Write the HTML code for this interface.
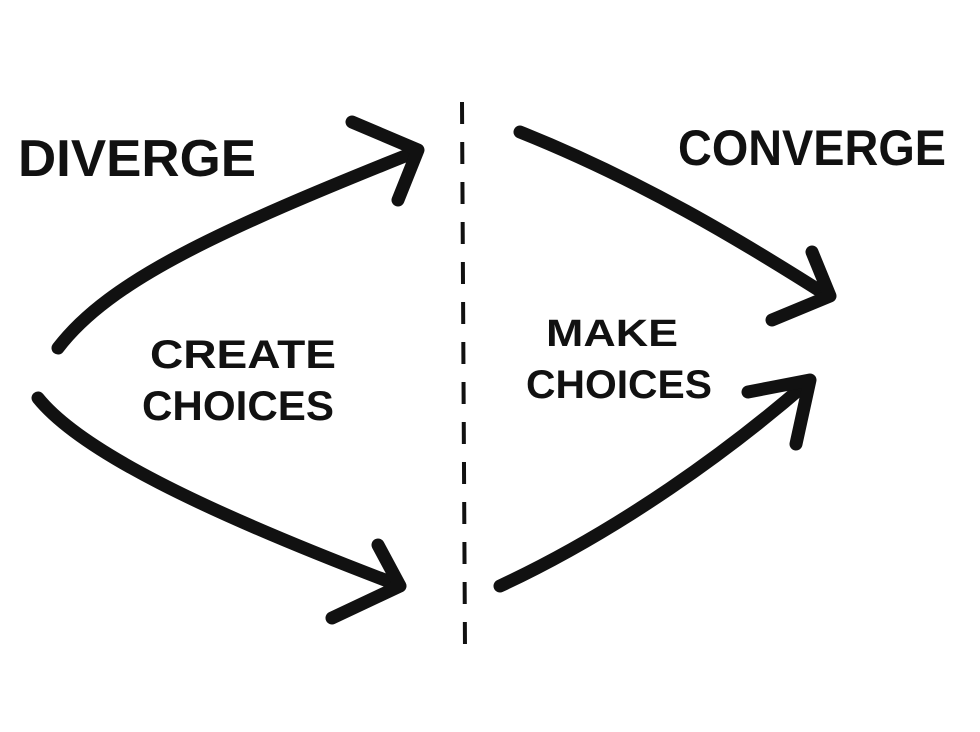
<!DOCTYPE html>
<html><head><meta charset="utf-8"><style>
html,body{margin:0;padding:0;background:#fff;}
svg{display:block}
text{font-family:"Liberation Sans",sans-serif;font-weight:bold;fill:#111;}
</style></head><body>
<svg width="980" height="732" viewBox="0 0 980 732" xmlns="http://www.w3.org/2000/svg">
<rect width="980" height="732" fill="#fff"/>
<g fill="none" stroke="#111" stroke-width="13" stroke-linecap="round" stroke-linejoin="round">
<!-- upper left arrow -->
<path d="M58 348 C110 280 220 230 415 152"/>
<path d="M352 122 L418 150 L398 200"/>
<!-- lower left arrow -->
<path d="M38 398 C80 450 200 510 398 585"/>
<path d="M378 545 L400 586 L332 618"/>
<!-- upper right arrow -->
<path d="M520 132 C640 180 740 240 828 296"/>
<path d="M812 252 L830 296 L772 320"/>
<!-- lower right arrow -->
<path d="M500 586 C620 530 730 450 808 382"/>
<path d="M748 392 L810 380 L796 444"/>
</g>
<line x1="462" y1="102" x2="465" y2="650" stroke="#111" stroke-width="4" stroke-dasharray="22 18"/>
<text x="18" y="176" font-size="52" textLength="238" lengthAdjust="spacingAndGlyphs">DIVERGE</text>
<text x="678" y="165" font-size="50" textLength="268" lengthAdjust="spacingAndGlyphs">CONVERGE</text>
<text x="150" y="368" font-size="40" textLength="186" lengthAdjust="spacingAndGlyphs">CREATE</text>
<text x="142" y="420" font-size="42" textLength="192" lengthAdjust="spacingAndGlyphs">CHOICES</text>
<text x="546" y="346" font-size="38" textLength="132" lengthAdjust="spacingAndGlyphs">MAKE</text>
<text x="526" y="398" font-size="40" textLength="186" lengthAdjust="spacingAndGlyphs">CHOICES</text>
</svg>
</body></html>
